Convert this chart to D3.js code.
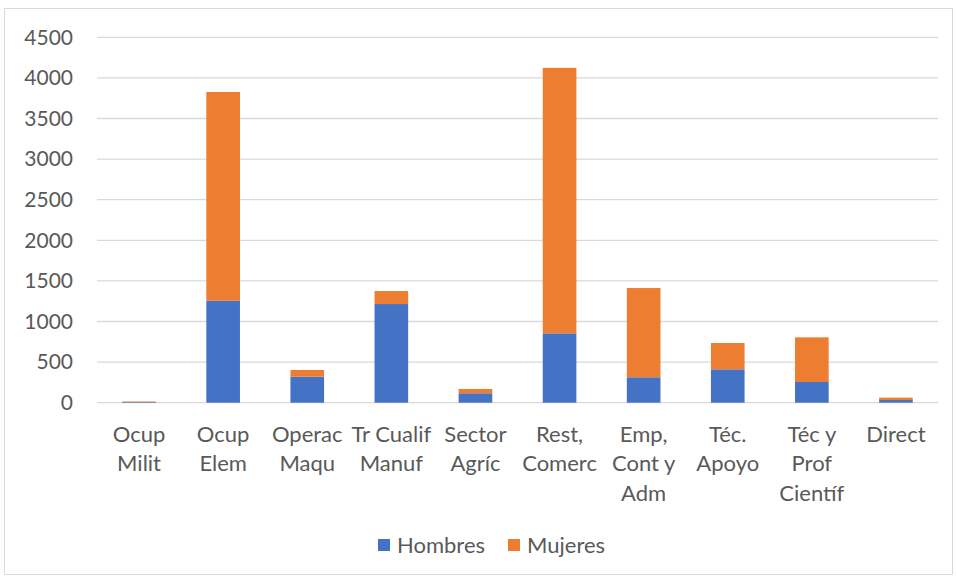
<!DOCTYPE html>
<html>
<head>
<meta charset="utf-8">
<script src="https://cdn.jsdelivr.net/npm/d3@7"></script>
<style>
  html, body { margin: 0; padding: 0; background: #fff; }
  svg { display: block; }
  text { font-family: "Lato", "Open Sans", sans-serif; fill: #595959; }
</style>
</head>
<body>
<div id="chart"></div>
<script>
const categories = [
  ["Ocup", "Milit"],
  ["Ocup", "Elem"],
  ["Operac", "Maqu"],
  ["Tr Cualif", "Manuf"],
  ["Sector", "Agríc"],
  ["Rest,", "Comerc"],
  ["Emp,", "Cont y", "Adm"],
  ["Téc.", "Apoyo"],
  ["Téc y", "Prof", "Científ"],
  ["Direct"]
];
const hombres = [8, 1256, 320, 1215, 116, 854, 313, 411, 255, 33];
const mujeres = [7, 2571, 83, 160, 53, 3270, 1099, 324, 550, 29];
const seriesNames = ["Hombres", "Mujeres"];
const seriesColors = ["#4472C4", "#ED7D31"];
const yTicks = [0, 500, 1000, 1500, 2000, 2500, 3000, 3500, 4000, 4500];

const W = 957, H = 578;
const svg = d3.select("#chart").append("svg").attr("width", W).attr("height", H);

// outer border
svg.append("rect").attr("x", 4.5).attr("y", 8.5).attr("width", W - 9).attr("height", H - 12)
  .attr("fill", "#fff").attr("stroke", "#D9D9D9").attr("stroke-width", 1);

const x0 = 97, x1 = 938;
const y = d3.scaleLinear().domain([0, 4500]).range([402.7, 37.3]);
const x = d3.scaleBand().domain(d3.range(categories.length)).range([x0, x1]).paddingInner(0.6).paddingOuter(0.3);

// gridlines
svg.append("g").selectAll("line").data(yTicks).join("line")
  .attr("x1", x0).attr("x2", x1)
  .attr("y1", d => y(d)).attr("y2", d => y(d))
  .attr("stroke", "#D9D9D9").attr("stroke-width", 1.3);

// y axis labels
const yAxis = d3.axisLeft(y).tickValues(yTicks).tickFormat(d3.format("d")).tickSize(0).tickPadding(0);
const gy = svg.append("g").attr("transform", `translate(73,0)`).call(yAxis);
gy.select(".domain").remove();
gy.selectAll("text").attr("font-size", 21).style("font-family", "Lato, sans-serif").attr("fill", "#595959");

// stacked data
const rows = categories.map((c, i) => ({ i, Hombres: hombres[i], Mujeres: mujeres[i] }));
const stack = d3.stack().keys(seriesNames)(rows);

svg.append("g").selectAll("g").data(stack).join("g")
  .attr("fill", (d, k) => seriesColors[k])
  .selectAll("rect").data(d => d).join("rect")
  .attr("x", d => x(d.data.i))
  .attr("width", x.bandwidth())
  .attr("y", d => y(d[1]))
  .attr("height", d => y(d[0]) - y(d[1]));

// x axis labels
const gx = svg.append("g");
categories.forEach((lines, i) => {
  const cx = x(i) + x.bandwidth() / 2;
  const t = gx.append("text").attr("text-anchor", "middle").attr("font-size", 22);
  lines.forEach((ln, j) => {
    t.append("tspan").attr("x", cx).attr("y", 434 + j * 29.5).attr("dy", "0.35em").text(ln);
  });
});

// legend
const legend = svg.append("g");
const legendItems = [{ x: 378, tx: 397 }, { x: 508, tx: 527 }];
seriesNames.forEach((s, k) => {
  legend.append("rect").attr("x", legendItems[k].x).attr("y", 539).attr("width", 12).attr("height", 12)
    .attr("fill", seriesColors[k]);
  legend.append("text").attr("x", legendItems[k].tx).attr("y", 545).attr("dy", "0.35em")
    .attr("font-size", 22).text(s);
});
</script>
</body>
</html>
